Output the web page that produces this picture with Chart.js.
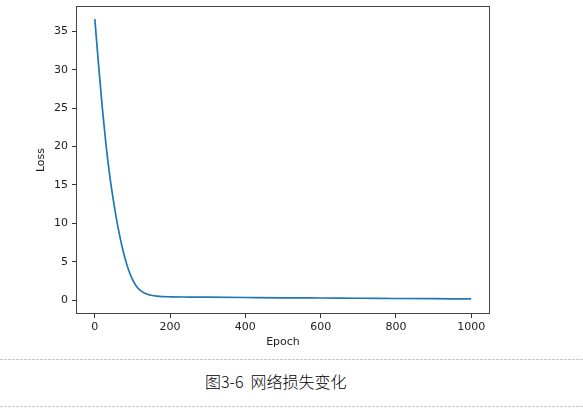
<!DOCTYPE html>
<html lang="zh-CN">
<head>
<meta charset="UTF-8">
<title>网络损失变化</title>
<script src="https://cdn.jsdelivr.net/npm/chart.js"></script>
<style>
    html, body { margin: 0; padding: 0; background: #fff; }
    .pagina { position: relative; width: 583px; height: 413px; overflow: hidden; }
    .grafico { position: absolute; left: 0; top: 0; width: 583px; height: 350px; }
    .tracejado {
        position: absolute; left: 0; width: 583px; height: 1px;
        background-image: linear-gradient(to right, #c8c8c8 0 3px, transparent 3px 4px);
        background-size: 4px 1px;
    }
    .legenda {
        position: absolute; left: 205px; top: 371px;
        font-family: "Noto Sans CJK SC", sans-serif; font-size: 16px; font-weight: 300;
        line-height: 20px; color: #000; white-space: nowrap;
    }
</style>
</head>
<body>
<div class="pagina">
    <div class="grafico"><canvas id="lossChart"></canvas></div>
    <div class="tracejado" style="top:359px"></div>
    <div class="legenda">图3-6&nbsp;&nbsp;网络损失变化</div>
    <div class="tracejado" style="top:406px"></div>
</div>

<script>
// valores
const epochs = [0, 10, 20, 30, 40, 50, 60, 70, 80, 90, 100, 110, 120, 130, 140, 150,
                165, 180, 200, 250, 300, 400, 500, 600, 700, 800, 900, 1000];
const loss = [36.6, 30.6, 25.0, 20.1, 16.1, 12.8, 9.9, 7.5, 5.5, 3.9, 2.7, 1.85, 1.3, 0.98, 0.78, 0.64,
              0.53, 0.47, 0.44, 0.41, 0.39, 0.35, 0.31, 0.28, 0.25, 0.22, 0.19, 0.16];
const xTicks = [0, 200, 400, 600, 800, 1000];
const yTicks = [0, 5, 10, 15, 20, 25, 30, 35];

const fonteEixo = { family: 'DejaVu Sans', size: 11 };
const corTexto = '#222';

// moldura em volta da área do gráfico (como no matplotlib)
const moldura = {
    id: 'moldura',
    afterDraw(chart) {
        const { ctx, chartArea: a } = chart;
        ctx.save();
        ctx.strokeStyle = '#444';
        ctx.lineWidth = 1;
        ctx.strokeRect(Math.round(a.left) + 0.5, Math.round(a.top) + 0.5,
                       Math.round(a.right - a.left) - 1, Math.round(a.bottom - a.top) - 1);
        ctx.restore();
    }
};

// tira o espaço extra que o Chart.js reserva para os rótulos das pontas
function semPadding(s) {
    s.paddingTop = 0;
    s.paddingBottom = 0;
    s.paddingLeft = 0;
    s.paddingRight = 0;
}

new Chart(document.getElementById('lossChart'), {
    type: 'line',
    data: {
        datasets: [{
            data: epochs.map((e, i) => ({ x: e, y: loss[i] })),
            borderColor: '#1f77b4',
            borderWidth: 1.7,
            pointRadius: 0,
            cubicInterpolationMode: 'monotone',
            fill: false
        }]
    },
    options: {
        responsive: true,
        maintainAspectRatio: false,
        animation: false,
        layout: { padding: { top: 6, right: 93, left: 0, bottom: 0 } },
        plugins: { legend: { display: false }, tooltip: { enabled: false } },
        scales: {
            x: {
                type: 'linear',
                min: -50,
                max: 1050,
                afterBuildTicks: s => { s.ticks = xTicks.map(v => ({ value: v })); },
                afterFit: s => { s.height = 36; semPadding(s); },
                grid: { drawOnChartArea: false, drawTicks: true, tickLength: 4, color: '#333' },
                border: { display: false },
                ticks: { font: fonteEixo, color: corTexto, padding: 3, maxRotation: 0, callback: v => String(v) },
                title: { display: true, text: 'Epoch', font: fonteEixo, color: corTexto, padding: { top: 0, bottom: 1 } }
            },
            y: {
                type: 'linear',
                min: -1.8,
                max: 38.3,
                afterBuildTicks: s => { s.ticks = yTicks.map(v => ({ value: v })); },
                afterFit: s => { s.width = 76; semPadding(s); },
                grid: { drawOnChartArea: false, drawTicks: true, tickLength: 4, color: '#333' },
                border: { display: false },
                ticks: { font: fonteEixo, color: corTexto, padding: 4, callback: v => String(v) },
                title: { display: true, text: 'Loss', font: fonteEixo, color: corTexto, padding: { top: 35, bottom: 0 } }
            }
        }
    },
    plugins: [moldura]
});
</script>
</body>
</html>
